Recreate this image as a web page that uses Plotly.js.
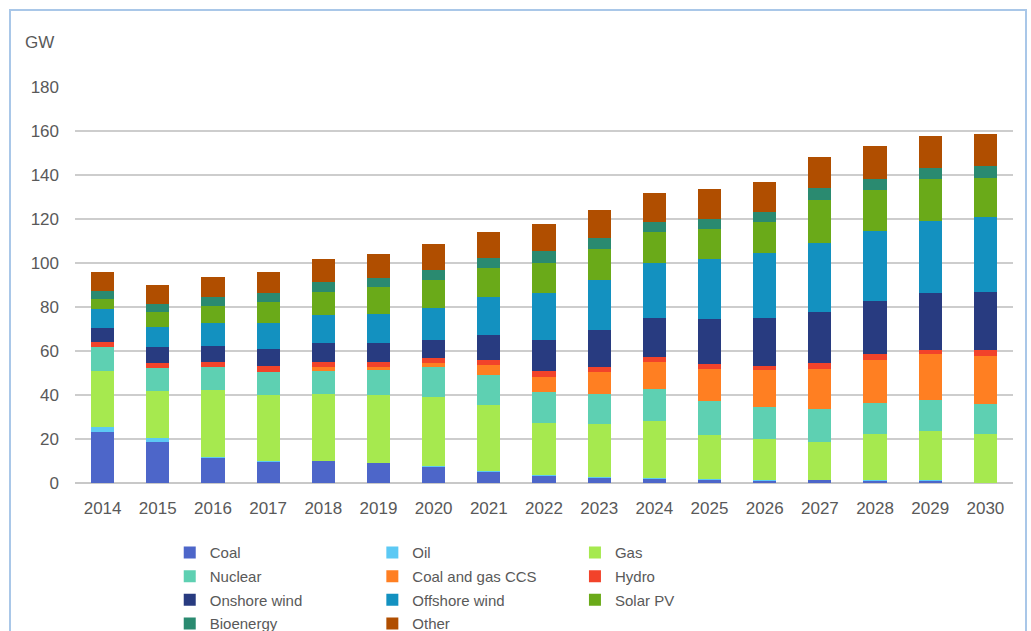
<!DOCTYPE html>
<html>
<head>
<meta charset="utf-8">
<script src="https://cdn.plot.ly/plotly-3.0.1.min.js"></script>
<style>
  html, body { margin: 0; padding: 0; background: #ffffff; }
  #wrap { position: relative; width: 1031px; height: 631px; overflow: hidden; }
  #chart { position: absolute; left: 0; top: 0; width: 1031px; height: 631px; }
  #frame { position: absolute; left: 9px; top: 9px; width: 1018px; height: 700px;
           border: 2px solid #a9c7e8; box-sizing: border-box; pointer-events: none; }
</style>
</head>
<body>
<div id="wrap">
  <div id="chart"></div>
  <div id="frame"></div>
</div>
<script>
// ---- Data (GW) ----
const years = ["2014","2015","2016","2017","2018","2019","2020","2021","2022","2023","2024","2025","2026","2027","2028","2029","2030"];

const coal      = [23.3, 18.8, 11.3, 9.7, 9.8, 9.0, 7.5, 5.2, 3.3, 2.3, 2.0, 1.5, 1.1, 1.2, 1.1, 1.1, 0.2];
const oil       = [2.3, 1.8, 0.3, 0.3, 0.3, 0.3, 0.3, 0.3, 0.3, 0.3, 0.3, 0.3, 0.3, 0.3, 0.3, 0.3, 0.0];
const gas       = [25.3, 21.2, 30.5, 30.0, 30.2, 30.8, 31.5, 29.8, 23.6, 24.0, 25.9, 20.2, 18.5, 17.3, 21.0, 22.2, 21.9];
const nuclear   = [10.9, 10.5, 10.6, 10.6, 10.6, 11.3, 13.6, 13.8, 14.1, 13.8, 14.6, 15.5, 14.8, 14.9, 14.0, 14.0, 13.6];
const ccs       = [0.0, 0.0, 0.0, 0.0, 1.8, 1.5, 1.8, 4.4, 7.1, 10.2, 12.3, 14.3, 16.5, 18.1, 19.6, 21.0, 22.1];
const hydro     = [2.2, 2.1, 2.3, 2.4, 2.3, 2.2, 1.9, 2.2, 2.4, 2.3, 2.4, 2.3, 2.1, 2.7, 2.6, 1.9, 2.7];
const onshore   = [6.6, 7.6, 7.4, 8.0, 8.5, 8.4, 8.6, 11.4, 14.4, 16.5, 17.7, 20.3, 21.6, 23.3, 24.2, 26.0, 26.3];
const offshore  = [8.4, 8.9, 10.2, 11.9, 12.7, 13.4, 14.3, 17.3, 21.2, 23.0, 25.0, 27.2, 29.6, 31.1, 31.6, 32.7, 34.2];
const solar     = [4.8, 6.7, 7.9, 9.4, 10.6, 12.0, 12.7, 13.2, 13.8, 13.8, 13.7, 13.7, 14.1, 19.6, 18.8, 18.8, 17.7];
const bioenergy = [3.5, 3.9, 4.2, 4.1, 4.4, 4.4, 4.6, 4.8, 5.3, 5.0, 4.7, 4.8, 4.5, 5.7, 5.2, 5.0, 5.2];
const other     = [8.7, 8.6, 9.1, 9.5, 10.5, 10.9, 11.9, 11.6, 12.4, 13.0, 13.1, 13.5, 13.5, 13.9, 14.8, 14.7, 14.7];

const seriesNames  = ["Coal", "Oil", "Gas", "Nuclear", "Coal and gas CCS", "Hydro", "Onshore wind", "Offshore wind", "Solar PV", "Bioenergy", "Other"];
const seriesValues = [coal, oil, gas, nuclear, ccs, hydro, onshore, offshore, solar, bioenergy, other];
const seriesColors = ["#4d66c9", "#5cc9f4", "#a6e94f", "#5ed0b2", "#ff7f22", "#f2432a", "#283b80", "#1391c0", "#6aaa19", "#2a8a70", "#b04e00"];

// ---- Styling ----
const textColor = "#595959";
const fontFamily = "Liberation Sans, Arial, sans-serif";
const legendIds = ["legend", "legend2", "legend3"];

const traces = seriesNames.map((name, i) => ({
  type: "bar",
  name: name,
  x: years,
  y: seriesValues[i],
  marker: { color: seriesColors[i], line: { width: 0 } },
  legend: legendIds[i % 3],
  legendgroup: name
}));

const legendBase = {
  orientation: "v",
  xanchor: "left",
  yanchor: "top",
  y: -0.1344,
  traceorder: "grouped",
  tracegroupgap: 1.2,
  bgcolor: "rgba(0,0,0,0)",
  borderwidth: 0,
  font: { family: fontFamily, size: 15, color: textColor }
};

const layout = {
  width: 1031,
  height: 631,
  margin: { l: 75, r: 18, t: 87, b: 148, autoexpand: false },
  paper_bgcolor: "#ffffff",
  plot_bgcolor: "#ffffff",
  barmode: "stack",
  bargap: 0.58,
  font: { family: fontFamily, color: textColor },
  showlegend: true,
  xaxis: {
    type: "category",
    showgrid: false,
    showline: false,
    ticks: "",
    ticklabelstandoff: 13,
    tickfont: { family: fontFamily, size: 17, color: textColor }
  },
  yaxis: {
    range: [0, 180],
    dtick: 20,
    showgrid: true,
    gridcolor: "#cdcdcd",
    gridwidth: 1.6,
    zeroline: true,
    zerolinecolor: "#c8c8c8",
    zerolinewidth: 2,
    showline: false,
    ticks: "",
    ticklabelstandoff: 15,
    tickfont: { family: fontFamily, size: 17, color: textColor }
  },
  legend:  Object.assign({}, legendBase, { x: 0.101 }),
  legend2: Object.assign({}, legendBase, { x: 0.317 }),
  legend3: Object.assign({}, legendBase, { x: 0.533 }),
  annotations: [{
    text: "GW",
    xref: "paper", yref: "paper",
    x: -0.055, y: 1.1136,
    xanchor: "left", yanchor: "middle",
    showarrow: false,
    font: { family: fontFamily, size: 17, color: textColor }
  }]
};

Plotly.newPlot("chart", traces, layout, { displayModeBar: false, staticPlot: true });
</script>
</body>
</html>
